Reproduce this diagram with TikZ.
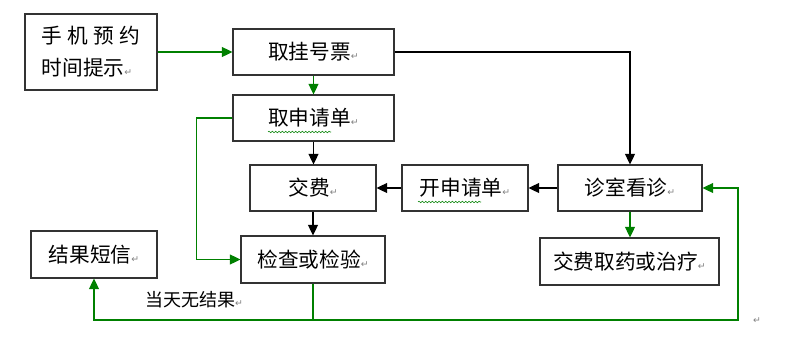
\documentclass[tikz,border=0pt]{standalone}
\usepackage{fontspec}
\setmainfont{Noto Sans CJK SC}
\newfontfamily\symfont{DejaVu Sans}
\usetikzlibrary{arrows.meta,decorations.pathmorphing}
\definecolor{flowgreen}{RGB}{0,128,0}
\newcommand\retmark{{\color{gray}\symfont\scriptsize ↵}}

\begin{document}
\begin{tikzpicture}[
  x=0.75pt,y=-0.75pt,
  >={Triangle[length=8pt,width=7.5pt]},
  every node/.style={font=\fontsize{15.5pt}{18pt}\selectfont},
  box/.style={draw=black!80,line width=0.8pt,inner sep=0pt,minimum height=34.5pt},
  barrow/.style={->,line width=1pt,black},
  garrow/.style={->,line width=1pt,flowgreen},
  gline/.style={line width=1pt,flowgreen},
  squiggle/.style={flowgreen,line width=0.4pt,decorate,
    decoration={snake,amplitude=0.6pt,segment length=2.5pt}}
]
\useasboundingbox (0,0) rectangle (788,339);
% boxes
\node[box,minimum width=99pt,minimum height=57pt,align=left,
  font=\fontsize{15.5pt}{24pt}\selectfont] (phone) at (91,52)
  {手\hspace{4pt}机\hspace{4pt}预\hspace{4pt}约\\时间提示\retmark};
\node[box,minimum width=120.75pt] (ticket) at (313.5,52) {取挂号票\retmark};
\node[box,minimum width=120.75pt] (getform) at (313.5,118) {取申请单\retmark};
\node[box,minimum width=94.5pt] (pay) at (313,188) {交费\retmark};
\node[box,minimum width=94.5pt] (issue) at (465,188) {开申请单\retmark};
\node[box,minimum width=108pt] (clinic) at (630,188) {诊室看诊\retmark};
\node[box,minimum width=108pt,minimum height=35.25pt] (exam) at (313,259.5) {检查或检验\retmark};
\node[box,minimum width=94.5pt,minimum height=35.25pt] (sms) at (94,254.5) {结果短信\retmark};
\node[box,minimum width=134.25pt,minimum height=35.25pt] (drug) at (629.5,261.5) {交费取药或治疗\retmark};
\node[font=\fontsize{13.5pt}{15pt}\selectfont] (noresult) at (194,300) {当天无结果\retmark};
\node (endmark) at (757,321) {\retmark};
% connectors
\draw[garrow] (phone) -- (ticket);
\draw[garrow] (ticket.south) -- (ticket.south |- getform.north);
\draw[barrow] (ticket.east) -| (clinic.north);
\draw[barrow] (getform.south) -- (getform.south |- pay.north);
\draw[barrow] (clinic) -- (issue);
\draw[barrow] (issue) -- (pay);
\draw[barrow] (pay.south) -- (pay.south |- exam.north);
\draw[garrow] (getform.west) -- ++(-36,0) |- (exam.west);
\draw[garrow] (clinic.south) -- (clinic.south |- drug.north);
\coordinate (split) at (313,320);
\draw[gline] (exam.south) -- (split);
\draw[garrow] (split) -| (sms.south);
\draw[garrow] (split) -- (738,320) |- (clinic.east);
% grammar marks
\draw[squiggle] (268,132) -- (331,132);
\draw[squiggle] (418,202) -- (481,202);
\end{tikzpicture}
\end{document}
